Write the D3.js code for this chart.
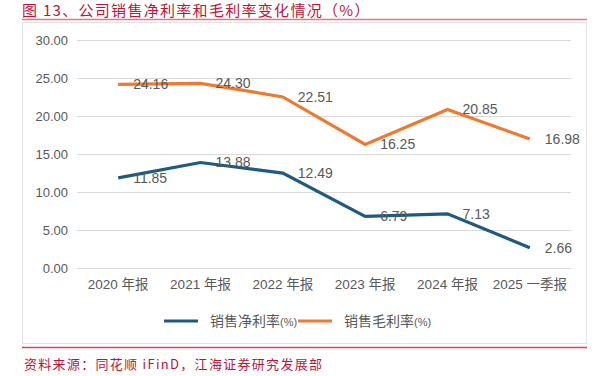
<!DOCTYPE html>
<html lang="zh">
<head>
<meta charset="utf-8">
<script src="https://cdn.jsdelivr.net/npm/d3@7"></script>
<style>
  body { margin: 0; background: #fff; }
  text { font-family: "Liberation Sans", "Noto Sans CJK SC", sans-serif; }
</style>
</head>
<body>
<script>
var categories = ["2020 年报", "2021 年报", "2022 年报", "2023 年报", "2024 年报", "2025 一季报"];
var netMargin = [11.85, 13.88, 12.49, 6.79, 7.13, 2.66];
var grossMargin = [24.16, 24.30, 22.51, 16.25, 20.85, 16.98];
var yTicks = [0, 5, 10, 15, 20, 25, 30];
var seriesNames = ["销售净利率", "销售毛利率"];

var width = 601, height = 376;
var red = "#b8163a";
var blue = "#1f5a80", orange = "#ed7a31";

var svg = d3.select("body").append("svg")
    .attr("width", width)
    .attr("height", height);

// title + frame
svg.append("text")
    .attr("x", 22).attr("y", 16)
    .style("font-family", "'Noto Sans CJK SC', sans-serif")
    .style("font-size", "15px")
    .style("letter-spacing", "1.3px")
    .attr("fill", red)
    .text("图 13、公司销售净利率和毛利率变化情况（%）");

svg.append("line")
    .attr("x1", 22).attr("x2", 587).attr("y1", 19.5).attr("y2", 19.5)
    .attr("stroke", "#e07a85").attr("stroke-width", 1.5);

svg.append("rect")
    .attr("x", 22.5).attr("y", 22.5).attr("width", 564).attr("height", 321)
    .attr("fill", "none").attr("stroke", "#e3e3e3");

svg.append("line")
    .attr("x1", 22).attr("x2", 587).attr("y1", 347.5).attr("y2", 347.5)
    .attr("stroke", "#d9484f").attr("stroke-width", 1.5);

svg.append("text")
    .attr("x", 24).attr("y", 369)
    .style("font-family", "'Noto Sans CJK SC', sans-serif")
    .style("font-size", "13px")
    .style("letter-spacing", "1.3px")
    .attr("fill", red)
    .text("资料来源：同花顺 iFinD，江海证券研究发展部");

// scales
var x = d3.scaleBand().domain(categories).range([77, 571]);
var y = d3.scaleLinear().domain([0, 30]).range([268, 40]);
var cx = function(i) { return x(categories[i]) + x.bandwidth() / 2; };

// grid
svg.append("g").selectAll("line").data(yTicks).enter().append("line")
    .attr("x1", 77).attr("x2", 571)
    .attr("y1", function(d) { return Math.round(y(d)) + 0.5; })
    .attr("y2", function(d) { return Math.round(y(d)) + 0.5; })
    .attr("stroke", "#d9d9d9");

var yAxis = d3.axisLeft(y).tickValues(yTicks).tickSize(0).tickPadding(0)
    .tickFormat(function(d) { return d.toFixed(2); });
var gy = svg.append("g").attr("transform", "translate(68,0)").call(yAxis);
gy.select(".domain").remove();
gy.selectAll("text").style("font-size", "13px").attr("fill", "#595959")
    .style("font-family", "'Liberation Sans', sans-serif");

var xAxis = d3.axisBottom(x).tickSize(0).tickPadding(0);
var gx = svg.append("g").attr("transform", "translate(0,279)").call(xAxis);
gx.select(".domain").remove();
gx.selectAll("text").style("font-size", "13.5px").attr("fill", "#595959")
    .style("font-family", "'Liberation Sans', 'Noto Sans CJK SC', sans-serif");

// lines
var line = d3.line()
    .x(function(d, i) { return cx(i); })
    .y(function(d) { return y(d); });

[[netMargin, blue], [grossMargin, orange]].forEach(function(s) {
  svg.append("path").datum(s[0])
      .attr("d", line)
      .attr("fill", "none")
      .attr("stroke", s[1])
      .attr("stroke-width", 3.2)
      .attr("stroke-linejoin", "miter");

  svg.append("g").selectAll("text").data(s[0]).enter().append("text")
      .attr("x", function(d, i) { return cx(i) + 15; })
      .attr("y", function(d) { return y(d); })
      .attr("dy", "0.35em")
      .style("font-size", "14px")
      .attr("fill", "#595959")
      .text(function(d) { return d.toFixed(2); });
});

// legend
var legend = svg.append("g").attr("transform", "translate(0,321)");
var legendItems = [[seriesNames[0], blue, 164], [seriesNames[1], orange, 298]];
legendItems.forEach(function(l) {
  legend.append("line")
      .attr("x1", l[2]).attr("x2", l[2] + 34)
      .attr("stroke", l[1]).attr("stroke-width", 3.2);
  var t = legend.append("text")
      .attr("x", l[2] + 46).attr("y", 0).attr("dy", "0.35em")
      .attr("fill", "#595959")
      .style("font-family", "'Noto Sans CJK SC', sans-serif")
      .style("font-size", "14px");
  t.append("tspan").text(l[0]);
  t.append("tspan").style("font-size", "11px")
      .style("font-family", "'Liberation Sans Narrow', 'Liberation Sans', sans-serif")
      .text("(%)");
});
</script>
</body>
</html>
